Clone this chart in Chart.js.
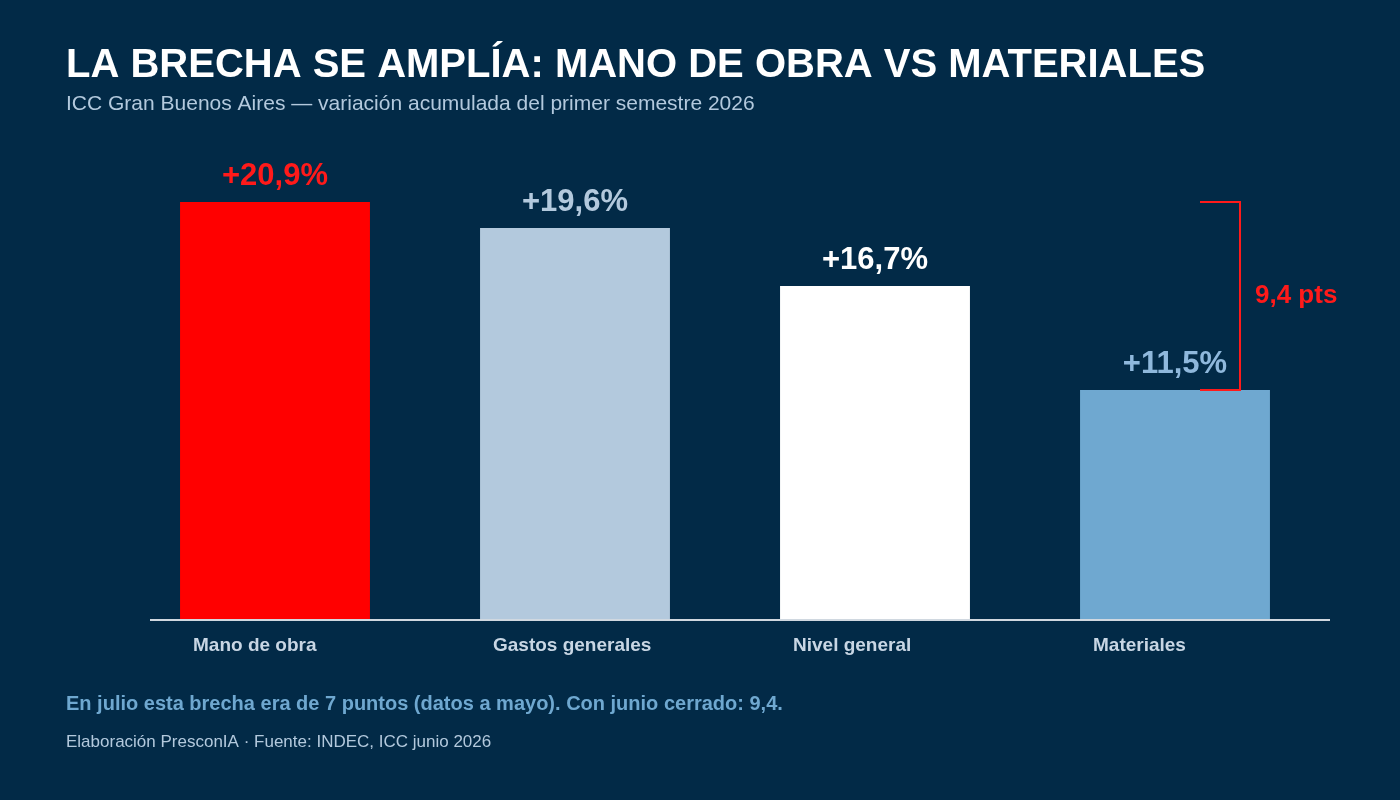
<!DOCTYPE html>
<html lang="es">
<head>
<meta charset="UTF-8">
<title>La brecha se amplía</title>
<script src="https://cdn.jsdelivr.net/npm/chart.js"></script>
<style>
  body { margin: 0; background: #022a47; }
  #wrap { width: 1400px; height: 800px; position: relative; }
</style>
</head>
<body>
<div id="wrap"><canvas id="chart" width="1400" height="800"></canvas></div>
<script>
const categories = ['Mano de obra', 'Gastos generales', 'Nivel general', 'Materiales'];
const values = [20.9, 19.6, 16.7, 11.5];
const barColors = ['#ff0000', '#b3c9dd', '#ffffff', '#6fa8d0'];
const labelColors = ['#ff1a1a', '#b3c9dd', '#ffffff', '#8fb8dc'];

const fmt = v => '+' + v.toFixed(1).replace('.', ',') + '%';
const FONT = 'Liberation Sans, Arial, sans-serif';

const overlay = {
  id: 'overlay',
  afterDatasetsDraw(chart) {
    const { ctx } = chart;
    const meta = chart.getDatasetMeta(0);
    const y = chart.scales.y;
    const base = y.getPixelForValue(0);
    ctx.save();
    // baseline
    ctx.strokeStyle = '#d0d8e0';
    ctx.lineWidth = 2;
    ctx.beginPath(); ctx.moveTo(150, base); ctx.lineTo(1330, base); ctx.stroke();
    // value labels + category labels
    meta.data.forEach((bar, i) => {
      ctx.textAlign = 'center';
      ctx.textBaseline = 'bottom';
      ctx.font = 'bold 31px ' + FONT;
      ctx.fillStyle = labelColors[i];
      ctx.fillText(fmt(values[i]), bar.x, bar.y - 10);
      ctx.textAlign = 'left';
      ctx.textBaseline = 'middle';
      ctx.font = 'bold 19px ' + FONT;
      ctx.fillStyle = '#c8d6e4';
      ctx.fillText(categories[i], bar.x - 82, base + 26);
    });
    // bracket between first and last
    const yTop = y.getPixelForValue(values[0]);
    const yBot = y.getPixelForValue(values[3]);
    const bx = 1240;
    ctx.strokeStyle = '#ff1a1a';
    ctx.lineWidth = 2;
    ctx.beginPath();
    ctx.moveTo(bx - 40, yTop); ctx.lineTo(bx, yTop); ctx.lineTo(bx, yBot); ctx.lineTo(bx - 40, yBot);
    ctx.stroke();
    ctx.fillStyle = '#ff1a1a';
    ctx.textAlign = 'left';
    ctx.textBaseline = 'middle';
    ctx.font = 'bold 26px ' + FONT;
    const gap = (values[0] - values[3]).toFixed(1).replace('.', ',');
    ctx.fillText(gap + ' pts', bx + 15, (yTop + yBot) / 2);
    // titles and notes
    ctx.textBaseline = 'alphabetic';
    ctx.fillStyle = '#ffffff';
    ctx.font = 'bold 40px ' + FONT;
    ctx.fillText('LA BRECHA SE AMPLÍA: MANO DE OBRA VS MATERIALES', 66, 77);
    ctx.fillStyle = '#b3c9dd';
    ctx.font = '21px ' + FONT;
    ctx.fillText('ICC Gran Buenos Aires — variación acumulada del primer semestre 2026', 66, 110);
    ctx.fillStyle = '#6fa8d0';
    ctx.font = 'bold 20px ' + FONT;
    ctx.fillText('En julio esta brecha era de 7 puntos (datos a mayo). Con junio cerrado: 9,4.', 66, 710);
    ctx.fillStyle = '#b3c9dd';
    ctx.font = '17px ' + FONT;
    ctx.fillText('Elaboración PresconIA · Fuente: INDEC, ICC junio 2026', 66, 747);
    ctx.restore();
  }
};

new Chart(document.getElementById('chart'), {
  type: 'bar',
  data: {
    labels: categories,
    datasets: [{ data: values, backgroundColor: barColors, barPercentage: 0.633, categoryPercentage: 1 }]
  },
  options: {
    responsive: false,
    animation: false,
    layout: { padding: { left: 125, right: 75, top: 120, bottom: 180 } },
    plugins: { legend: { display: false }, tooltip: { enabled: false } },
    scales: {
      x: { display: false },
      y: { display: false, min: 0, max: 25 }
    }
  },
  plugins: [overlay]
});
</script>
</body>
</html>
